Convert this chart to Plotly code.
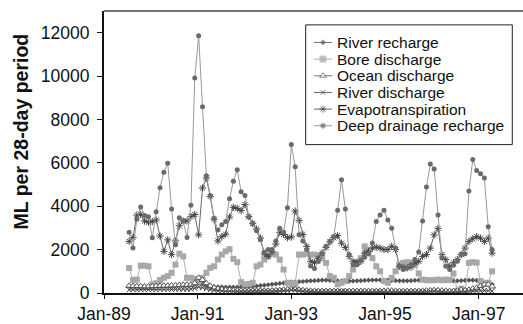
import pandas as pd
import plotly.graph_objects as go

# 95 roughly monthly periods, Jul-1989 .. Apr-1997
dates = pd.date_range(start="1989-07-16", end="1997-04-16", periods=95)

river_recharge = [300, 300, 310, 310, 320, 320, 320, 330, 330, 330,
                  330, 330, 330, 340, 340, 350, 360, 400, 470, 420,
                  350, 300, 290, 280, 280, 270, 270, 270, 270, 280,
                  280, 290, 300, 320, 340, 360, 380, 400, 420, 440,
                  460, 480, 500, 510, 520, 530, 550, 560, 570, 580,
                  590, 590, 580, 570, 560, 550, 550, 550, 550, 560,
                  570, 580, 590, 600, 600, 600, 600, 590, 580, 570,
                  560, 560, 560, 570, 580, 590, 600, 600, 600, 600,
                  590, 580, 570, 560, 560, 560, 570, 580, 590, 590,
                  580, 500, 470, 430, 400]

bore_discharge = [1150, 600, 620, 1260, 1260, 1230, 400, 450, 600, 700,
                  780, 930, 1310, 1810, 1690, 700, 700, 650, 550, 700,
                  930, 1160, 1230, 1540, 1770, 1920, 2020, 1570, 1420, 500,
                  400, 420, 470, 1230, 1310, 1540, 1690, 1810, 1770, 1540,
                  1080, 470, 440, 420, 1770, 1770, 1810, 1770, 1770, 1720,
                  1600, 1390, 780, 700, 400, 470, 550, 780, 1080, 1390,
                  1600, 2150, 1990, 1610, 1230, 1000, 550, 470, 700, 1000,
                  1310, 1390, 1420, 1390, 1300, 900, 620, 590, 590, 590,
                  620, 590, 620, 600, 900, 100, 200, 100, 1390, 1420,
                  1400, 550, 470, 470, 1000]

ocean_discharge = [330, 320, 320, 310, 300, 300, 310, 320, 330, 340,
                   340, 350, 360, 370, 380, 380, 390, 450, 700, 600,
                   450, 330, 250, 200, 170, 150, 140, 130, 120, 110,
                   110, 100, 100, 100, 100, 100, 100, 110, 120, 130,
                   150, 170, 180, 170, 150, 130, 110, 100, 100, 90,
                   90, 90, 90, 90, 90, 90, 90, 90, 90, 90,
                   90, 90, 90, 90, 90, 90, 100, 110, 110, 100,
                   90, 90, 90, 90, 90, 90, 100, 110, 120, 130,
                   120, 110, 100, 90, 90, 100, 150, 120, 150, 200,
                   240, 320, 390, 390, 300]

river_discharge = [150, 150, 150, 150, 150, 150, 150, 150, 160, 160,
                   160, 160, 160, 170, 170, 170, 180, 220, 280, 250,
                   200, 150, 120, 100, 90, 80, 80, 80, 80, 80,
                   80, 80, 80, 80, 80, 80, 80, 80, 90, 100,
                   110, 120, 150, 140, 110, 90, 80, 70, 60, 60,
                   60, 60, 60, 60, 70, 80, 70, 60, 50, 50,
                   50, 50, 50, 50, 60, 70, 60, 50, 50, 50,
                   50, 50, 50, 50, 50, 50, 60, 70, 80, 90,
                   70, 60, 50, 50, 50, 50, 60, 60, 70, 80,
                   90, 100, 120, 110, 90]

evapotranspiration = [2380, 2560, 3590, 3620, 3320, 3260, 3290, 3370, 2630, 1920,
                      2450, 1770, 2400, 3100, 3320, 3320, 3520, 3620, 2680, 4840,
                      5300, 4450, 3400, 2400, 2600, 2710, 3500, 3950, 3900, 3800,
                      4080, 3520, 3210, 2950, 2530, 1800, 1700, 1900, 2260, 2800,
                      2700, 2550, 2580, 3780, 3350, 2700, 2150, 1460, 1400, 1600,
                      1850, 2100, 2350, 2550, 2650, 2300, 2100, 1690, 1460, 1415,
                      1460, 1840, 1920, 2070, 2110, 2070, 2000, 2000, 2150, 2000,
                      1230, 1160, 1160, 1200, 1390, 1460, 1690, 1770, 2070, 2680,
                      2980, 1770, 1540, 1230, 1390, 1540, 1770, 2070, 2380, 2500,
                      2600, 2530, 2380, 2530, 1840]

deep_drainage = [2800, 2070, 3400, 3970, 3570, 3520, 2550, 3740, 4850, 5570,
                 5980, 3870, 2220, 3470, 3320, 2560, 4050, 9910, 11860, 8590,
                 5400, 4500, 3450, 2900, 3150, 3300, 4350, 5150, 5680, 4670,
                 4490, 3500, 3200, 2870, 2450, 1880, 2000, 2000, 2400, 2980,
                 2800, 3930, 6840, 5820, 2680, 2400, 2000, 1250, 1130, 1450,
                 1800, 2150, 2380, 2600, 3820, 5220, 3870, 1770, 1300, 1300,
                 1500, 1650, 1800, 2300, 3300, 3600, 3820, 3370, 2980, 2070,
                 1230, 1080, 1150, 1300, 1540, 1890, 3320, 4890, 5950, 5720,
                 3600, 1610, 1230, 1080, 1280, 1460, 1770, 1800, 4700, 6150,
                 5650, 5500, 5300, 3050, 2000]

series_names = ["River recharge", "Bore discharge", "Ocean discharge",
                "River discharge", "Evapotranspiration", "Deep drainage recharge"]
series_values = [river_recharge, bore_discharge, ocean_discharge,
                 river_discharge, evapotranspiration, deep_drainage]

# styles
styles = [
    (dict(symbol="diamond", size=4, color="#555555"), "#777777"),
    (dict(symbol="square", size=6, color="#a8a8a8"), "#b0b0b0"),
    (dict(symbol="triangle-up", size=6, color="white", line=dict(color="#555555", width=1)), "#777777"),
    (dict(symbol="x-thin-open", size=5, color="#444444", line=dict(color="#444444", width=1)), "#666666"),
    (dict(symbol="asterisk-open", size=6, color="#444444", line=dict(color="#444444", width=1)), "#666666"),
    (dict(symbol="circle", size=5, color="#6a6a6a"), "#999999"),
]

# plot area in pixels (for the hand-made legend overlay)
L, R, T, B = 104, 523, 11, 295.3
LEG_BOX = (305.7, 512.3, 25, 145.7)
LEG_ROW0, LEG_STEP = 42.7, 16.8
LEG_SYM_X = (314, 323, 332)
LEG_TEXT_X = 335

fig = go.Figure()
for name, vals, (marker, lc) in zip(series_names, series_values, styles):
    fig.add_trace(go.Scatter(x=dates, y=vals, name=name, mode="lines+markers",
                             marker=marker, line=dict(color=lc, width=1),
                             showlegend=False))

annotations = []
for k, (name, (marker, lc)) in enumerate(zip(series_names, styles)):
    ry = LEG_ROW0 + k * LEG_STEP
    m = dict(marker)
    m["size"] = [0, marker["size"], 0]
    fig.add_trace(go.Scatter(x=list(LEG_SYM_X), y=[ry] * 3, mode="lines+markers",
                             marker=m, line=dict(color=lc, width=1),
                             xaxis="x2", yaxis="y2", showlegend=False,
                             hoverinfo="skip", cliponaxis=False))
    annotations.append(dict(text=name, xref="x2", yref="y2", x=LEG_TEXT_X, y=ry,
                            xanchor="left", yanchor="middle", showarrow=False,
                            font=dict(size=15.5, color="#111111")))

annotations.append(dict(text="<b>ML per 28-day period</b>", textangle=-90,
                        xref="paper", yref="paper", x=(21 - L) / (R - L),
                        y=(B - 132.5) / (B - T),
                        xanchor="center", yanchor="middle", showarrow=False,
                        font=dict(size=19.5, color="#111111")))

fig.update_layout(
    width=523, height=324,
    margin=dict(l=L, r=523 - R, t=T, b=324 - B),
    paper_bgcolor="white", plot_bgcolor="white",
    font=dict(family="Liberation Sans, Arial, sans-serif", size=17.5, color="#111111"),
    showlegend=False,
    xaxis=dict(type="date", range=["1989-01-01", "1997-12-13"],
               tick0="1989-01-01", dtick="M24", tickformat="%b-%y",
               ticks="outside", ticklen=4, tickcolor="#111111",
               showline=True, linecolor="#111111", linewidth=2,
               showgrid=False, zeroline=False),
    yaxis=dict(range=[0, 13000], tick0=0, dtick=2000, tickformat="d",
               ticks="outside", ticklen=5, tickcolor="#111111",
               showline=True, linecolor="#111111", linewidth=2,
               showgrid=False, zeroline=False, ticklabelstandoff=4),
    xaxis2=dict(range=[L, R], overlaying="x", anchor="y2", visible=False, fixedrange=True),
    yaxis2=dict(range=[B, T], overlaying="y", anchor="x2", visible=False, fixedrange=True),
    shapes=[dict(type="line", xref="paper", yref="paper", x0=0, x1=1, y0=1, y1=1,
                 line=dict(color="#444444", width=1.5)),
            dict(type="rect", xref="x2", yref="y2", x0=LEG_BOX[0], x1=LEG_BOX[1],
                 y0=LEG_BOX[2], y1=LEG_BOX[3], line=dict(color="#222222", width=1),
                 fillcolor="white", layer="below")],
    annotations=annotations,
)

fig.write_html("out.html", config={"displayModeBar": False},
               post_script="document.body.style.margin='0px';")
